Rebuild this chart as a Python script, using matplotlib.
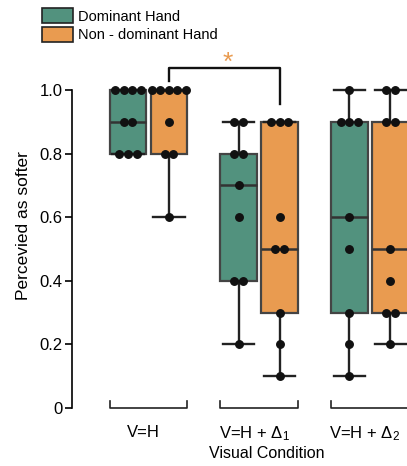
import numpy as np
import matplotlib.pyplot as plt
import matplotlib.transforms as mtrans
from matplotlib.patches import Patch

plt.rcParams['font.family'] = ['Liberation Sans', 'DejaVu Sans']
plt.rcParams['mathtext.fontset'] = 'custom'
plt.rcParams['mathtext.rm'] = 'Liberation Sans'
plt.rcParams['mathtext.it'] = 'Liberation Sans'

# data: proportion perceived as softer, 9 participants per condition
conditions = ["V=H", "V=H + Δ$_1$", "V=H + Δ$_2$"]
dominant = [
    [1.0, 1.0, 1.0, 1.0, 0.9, 0.9, 0.8, 0.8, 0.8],
    [0.9, 0.9, 0.8, 0.8, 0.7, 0.6, 0.4, 0.4, 0.2],
    [1.0, 0.9, 0.9, 0.9, 0.6, 0.5, 0.3, 0.2, 0.1],
]
non_dominant = [
    [1.0, 1.0, 1.0, 1.0, 1.0, 0.9, 0.8, 0.8, 0.6],
    [0.9, 0.9, 0.9, 0.6, 0.5, 0.5, 0.3, 0.2, 0.1],
    [1.0, 1.0, 0.9, 0.9, 0.5, 0.4, 0.3, 0.3, 0.2],
]
series_names = ["Dominant Hand", "Non - dominant Hand"]

green = "#52927e"
orange = "#e99b50"
edge = "#444444"

fig = plt.figure(figsize=(4.07, 4.66), dpi=100)
# axes runs past the right edge of the figure (last box is cut off)
ax = fig.add_axes([72 / 407, 58 / 466, 390 / 407, 365.7 / 466])

centers = np.arange(len(conditions))
offset = 0.185
width = 0.33
step = 0.077

for data, sign, col in [(dominant, -1, green), (non_dominant, 1, orange)]:
    pos = centers + sign * offset
    ax.boxplot(data, positions=pos, widths=width, patch_artist=True,
               showfliers=False, manage_ticks=False,
               boxprops=dict(facecolor=col, edgecolor=edge, linewidth=1.6),
               medianprops=dict(color="#333333", linewidth=1.8),
               whiskerprops=dict(color="#222222", linewidth=1.7),
               capprops=dict(color="#222222", linewidth=1.7),
               capwidths=width * 0.85)
    # simple swarm: spread equal values side by side
    for p, vals in zip(pos, data):
        vals = np.array(vals)
        for v in np.unique(vals):
            n = np.sum(vals == v)
            xs = p + (np.arange(n) - (n - 1) / 2) * step
            ax.plot(xs, [v] * n, 'o', color="#111111", markersize=5.4,
                    zorder=5, clip_on=False)

ax.set_xlim(-0.691, 2.832)
ax.set_ylim(0, 1.15)
ax.spines['top'].set_visible(False)
ax.spines['right'].set_visible(False)
ax.spines['bottom'].set_visible(False)
ax.spines['left'].set_bounds(0, 1.0)
ax.spines['left'].set_linewidth(1.2)
ax.set_yticks([0, 0.2, 0.4, 0.6, 0.8, 1.0])
ax.set_yticklabels(["0", "0.2", "0.4", "0.6", "0.8", "1.0"])
ax.tick_params(axis='y', labelsize=12, width=1.2, length=5, pad=2)
ax.set_xticks(centers)
ax.set_xticklabels(conditions)
ax.tick_params(axis='x', length=0, pad=12, labelsize=12)
shift = mtrans.ScaledTranslation(-5 / 100, 0, fig.dpi_scale_trans)
for lab in ax.get_xticklabels():
    lab.set_transform(lab.get_transform() + shift)
ax.set_ylabel("Percevied as softer", fontsize=12.5, labelpad=6)
ax.set_xlabel("Visual Condition", fontsize=11.5, labelpad=2)

# brackets under each condition instead of an x axis
for c in centers:
    lo = c - offset - width / 2
    hi = c + offset + width / 2
    ax.plot([lo, lo, hi, hi], [0.022, 0, 0, 0.022], color="#222222",
            linewidth=1.2, clip_on=False)

# significance bracket
x1 = centers[0] + offset
x2 = centers[1] + offset
ax.plot([x1, x1, x2, x2], [1.028, 1.069, 1.069, 0.956], color="#111111",
        linewidth=1.7, clip_on=False)
ax.text((x1 + x2) / 2 + 0.035, 1.085, "*", color=orange, fontsize=19,
        ha='center', va='center')

handles = [Patch(facecolor=green, edgecolor="#222222", linewidth=1.2),
           Patch(facecolor=orange, edgecolor="#222222", linewidth=1.2)]
fig.legend(handles, series_names, loc='upper left',
           bbox_to_anchor=(34 / 407, 1.0), frameon=False, fontsize=10.5,
           handlelength=2.1, handleheight=1.25, handletextpad=0.4,
           labelspacing=0.2, borderaxespad=0.15)

plt.savefig("out.png", dpi=100)
